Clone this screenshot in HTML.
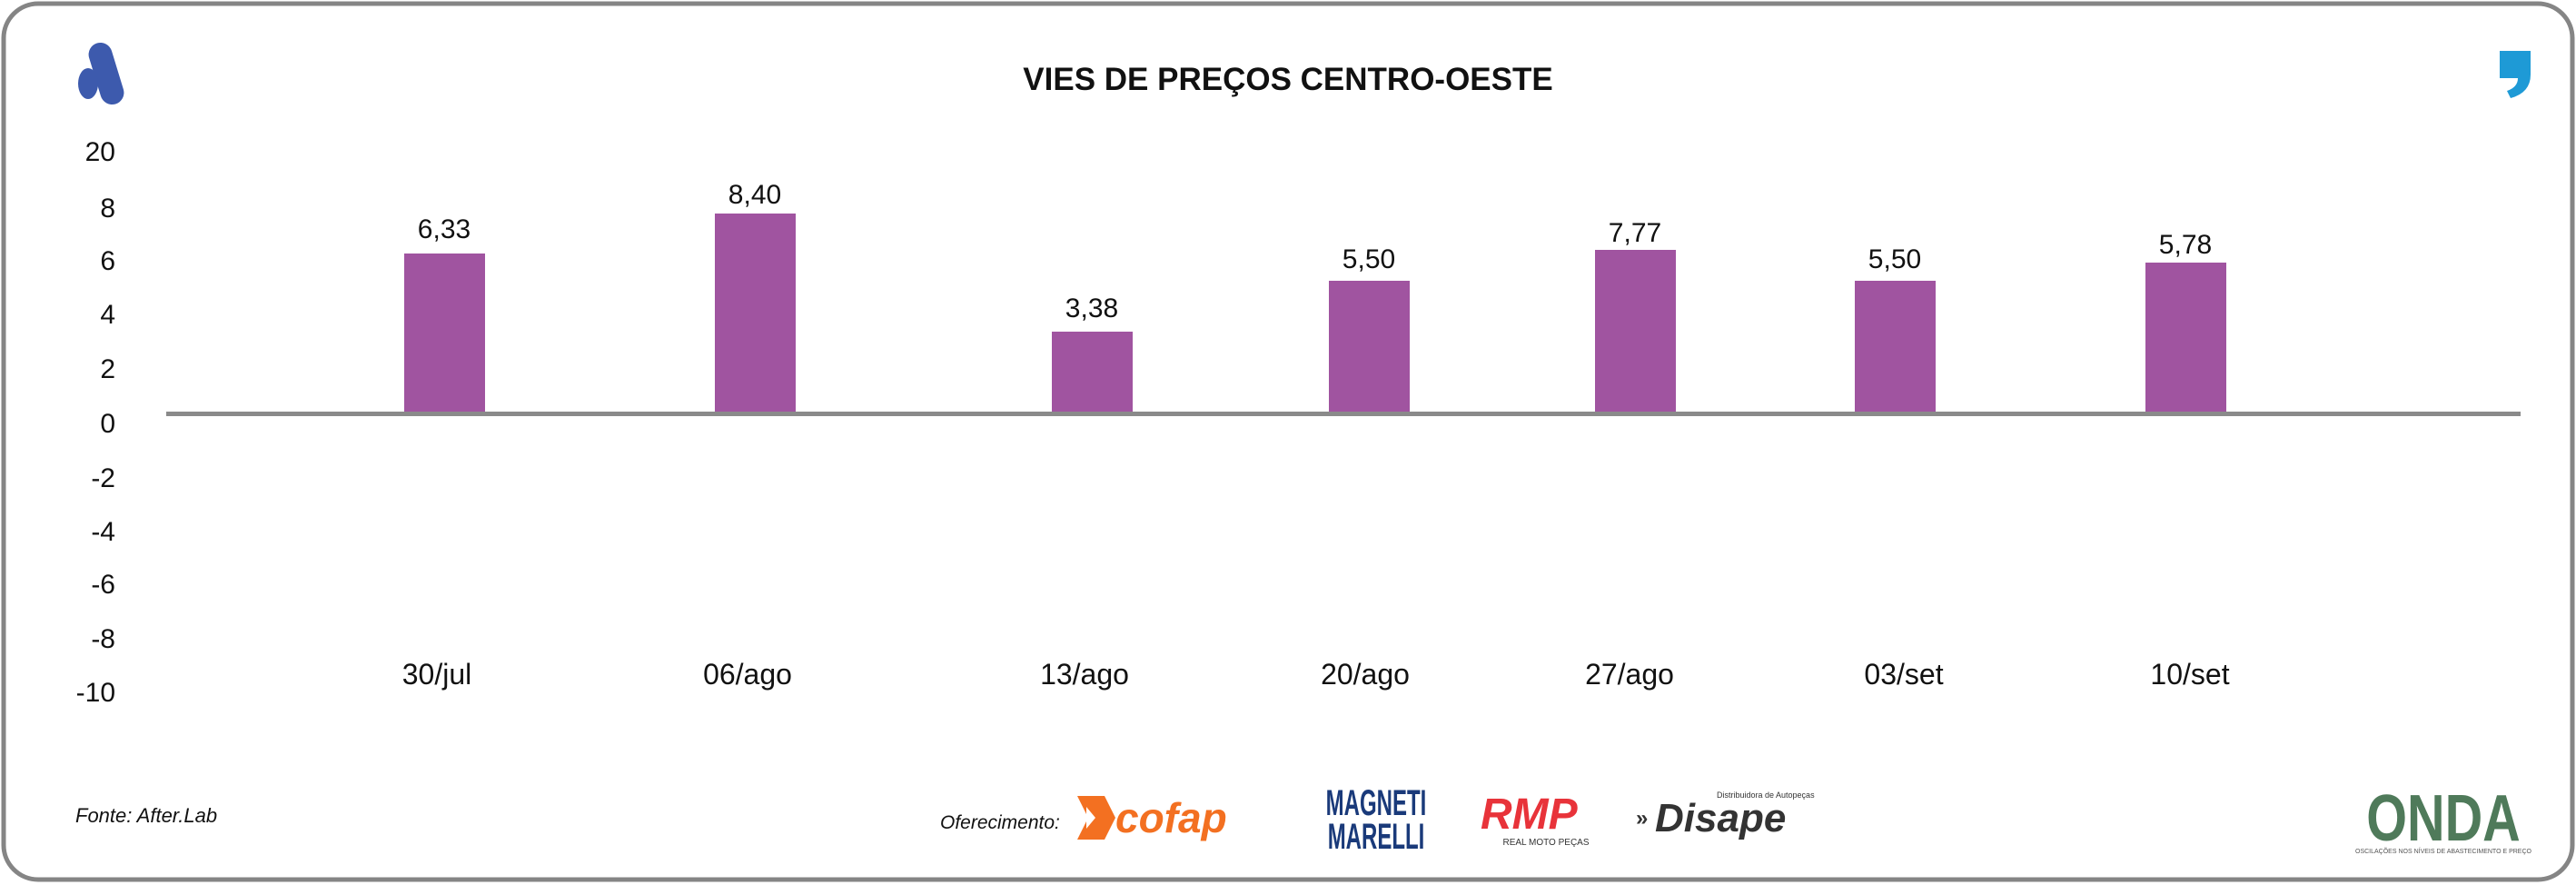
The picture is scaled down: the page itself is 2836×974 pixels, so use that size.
<!DOCTYPE html>
<html><head><meta charset="utf-8"><style>
html,body{margin:0;padding:0;background:#fff;}
svg{display:block;}
text{font-family:"Liberation Sans",sans-serif;}
</style></head><body>
<svg width="2836" height="974" viewBox="0 0 2836 974" xmlns="http://www.w3.org/2000/svg">
<rect x="4" y="4" width="2828" height="964" rx="38" ry="38" fill="#fff" stroke="#858585" stroke-width="5"/>
<g fill="#3d5aad">
<rect x="104" y="46" width="26" height="70" rx="13" transform="rotate(-17 117 81)"/>
<ellipse cx="97" cy="92" rx="11" ry="17"/>
</g>
<path d="M2752 56 h34 v26 q0 20 -22 26 l-4 -8 q12 -4 12 -14 h-20 z" fill="#1e9ad6"/>
<text x="1418" y="99" text-anchor="middle" font-size="35" font-weight="bold" fill="#111">VIES DE PREÇOS CENTRO-OESTE</text>
<g font-size="30" fill="#111" text-anchor="end">
<text x="127" y="177">20</text>
<text x="127" y="239">8</text>
<text x="127" y="297">6</text>
<text x="127" y="356">4</text>
<text x="127" y="416">2</text>
<text x="127" y="476">0</text>
<text x="127" y="536">-2</text>
<text x="127" y="595">-4</text>
<text x="127" y="653">-6</text>
<text x="127" y="713">-8</text>
<text x="127" y="772">-10</text>
</g>
<g fill="#a054a0">
<rect x="445" y="279" width="89" height="174"/>
<rect x="787" y="235" width="89" height="218"/>
<rect x="1158" y="365" width="89" height="88"/>
<rect x="1463" y="309" width="89" height="144"/>
<rect x="1756" y="275" width="89" height="178"/>
<rect x="2042" y="309" width="89" height="144"/>
<rect x="2362" y="289" width="89" height="164"/>
</g>
<rect x="183" y="453" width="2592" height="5" fill="#8a8a8a"/>
<g font-size="30" fill="#111" text-anchor="middle">
<text x="489" y="262">6,33</text>
<text x="831" y="224">8,40</text>
<text x="1202" y="349">3,38</text>
<text x="1507" y="295">5,50</text>
<text x="1800" y="266">7,77</text>
<text x="2086" y="295">5,50</text>
<text x="2406" y="279">5,78</text>
</g>
<g font-size="32" fill="#111" text-anchor="middle">
<text x="481" y="753">30/jul</text>
<text x="823" y="753">06/ago</text>
<text x="1194" y="753">13/ago</text>
<text x="1503" y="753">20/ago</text>
<text x="1794" y="753">27/ago</text>
<text x="2096" y="753">03/set</text>
<text x="2411" y="753">10/set</text>
</g>
<text x="83" y="905" font-size="22" font-style="italic" fill="#111">Fonte: After.Lab</text>
<text x="1035" y="912" font-size="21" font-style="italic" fill="#111">Oferecimento:</text>
<path d="M1186 876 h30 l12 24 l-12 24 h-30 l12 -24 z" fill="#f37021"/>
<path d="M1196 888 l10 12 l-10 12 z" fill="#fff"/>
<text x="1228" y="916" font-size="46" font-weight="bold" font-style="italic" fill="#f37021">cofap</text>
<text x="1515" y="897" font-size="40" font-weight="bold" fill="#1a3a7a" text-anchor="middle" transform="translate(1515 0) scale(0.6 1) translate(-1515 0)">MAGNETI</text>
<text x="1515" y="934" font-size="40" font-weight="bold" fill="#1a3a7a" text-anchor="middle" transform="translate(1515 0) scale(0.6 1) translate(-1515 0)">MARELLI</text>
<text x="1630" y="912" font-size="48" font-weight="bold" font-style="italic" fill="#e8333a">RMP</text>
<text x="1702" y="930" font-size="10" fill="#333" text-anchor="middle">REAL MOTO PEÇAS</text>
<text x="1801" y="908" font-size="24" font-weight="bold" fill="#333">»</text>
<text x="1822" y="915" font-size="44" font-weight="bold" font-style="italic" fill="#333">Disape</text>
<text x="1890" y="878" font-size="9" fill="#333">Distribuidora de Autopeças</text>
<text x="2690" y="925" font-size="72" font-weight="bold" fill="#4f7a5a" text-anchor="middle" transform="translate(2690 0) scale(0.8 1) translate(-2690 0)">ONDA</text>
<text x="2690" y="939" font-size="7" fill="#555" text-anchor="middle">OSCILAÇÕES NOS NÍVEIS DE ABASTECIMENTO E PREÇO</text>
</svg>
</body></html>
